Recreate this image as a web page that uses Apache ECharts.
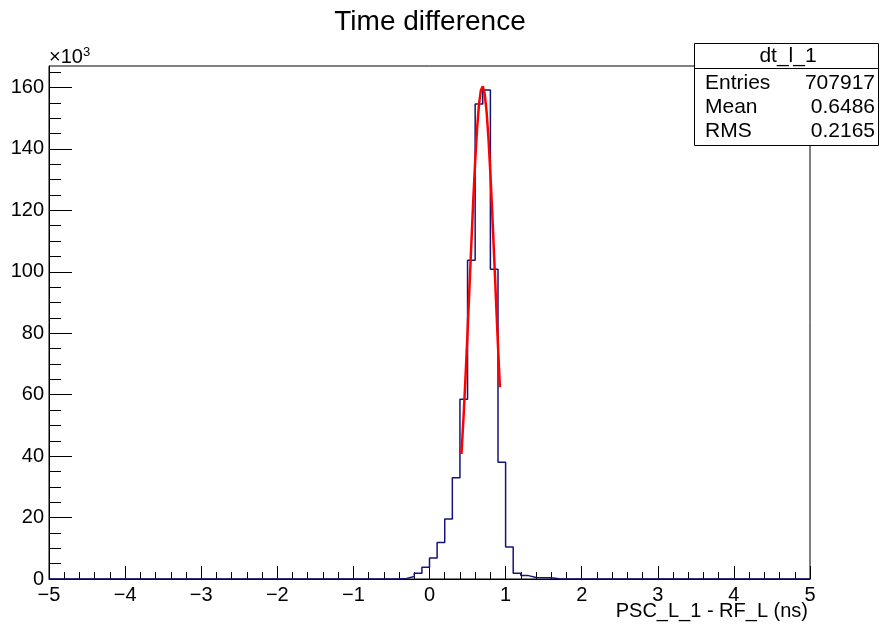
<!DOCTYPE html>
<html>
<head>
<meta charset="utf-8">
<script src="https://cdn.jsdelivr.net/npm/echarts@6/dist/echarts.min.js"></script>
<style>
html,body{margin:0;padding:0;background:#fff;}
#chart{width:881px;height:627px;}
</style>
</head>
<body>
<div id="chart"></div>
<script>
// Histogram: 100 bins of width 0.1 from -5 to 5, counts in units of 10^3
var binLow = -5;
var binWidth = 0.1;
var nBins = 100;
// non-empty bins start at x = -0.5 (bin index 45)
var firstFilledBin = 45;
var filledCountsK = [0.05, 0.2, 0.8, 1.9, 3.8, 6.8, 11.9, 19.5, 33.0, 58.5,
                     103.8, 154.6, 159.2, 100.8, 38.0, 10.4, 1.9, 1.1, 0.5, 0.4,
                     0.4, 0.05];
// Gaussian fit curve (red)
var fitX = [0.42, 0.45, 0.475, 0.50, 0.525, 0.55, 0.575, 0.60, 0.625, 0.65, 0.675,
            0.70, 0.725, 0.75, 0.775, 0.80, 0.825, 0.85, 0.875, 0.90, 0.925];
var fitY = [40.7, 54.0, 66.6, 80.4, 94.8, 109.3, 123.3, 135.9, 146.5, 154.4, 159.1,
            160.4, 158.0, 152.2, 143.4, 132.0, 118.9, 104.7, 90.1, 75.9, 62.4];
var yMajorTicks = [0, 20, 40, 60, 80, 100, 120, 140, 160];
var yMinorTicks = [5, 10, 15, 25, 30, 35, 45, 50, 55, 65, 70, 75, 85, 90, 95,
                   105, 110, 115, 125, 130, 135, 145, 150, 155, 165];
var statsTitle = 'dt_l_1';
var statsRows = [['Entries', '707917'], ['Mean', '0.6486'], ['RMS', '0.2165']];

var counts = [];
for (var i = 0; i < nBins; i++) counts.push(0);
for (var j = 0; j < filledCountsK.length; j++) counts[firstFilledBin + j] = filledCountsK[j];

var histPts = [[binLow, 0]];
for (var b = 0; b < nBins; b++) {
  var lo = +(binLow + b * binWidth).toFixed(4);
  var hi = +(binLow + (b + 1) * binWidth).toFixed(4);
  histPts.push([lo, counts[b]]);
  histPts.push([hi, counts[b]]);
}
histPts.push([binLow + nBins * binWidth, 0]);

var fitPts = fitX.map(function (x, k) { return [x, fitY[k]]; });

var FONT = '"Liberation Sans", Arial, Helvetica, sans-serif';
var chart = echarts.init(document.getElementById('chart'), null, {renderer: 'canvas'});

var L = 49, R = 810, T = 66, B = 579;

var graphics = [
  {type: 'text', x: 430, y: 22, z: 10,
   style: {text: 'Time difference', font: '28px ' + FONT, fill: '#000', textAlign: 'center', textVerticalAlign: 'middle'}},
  {type: 'text', x: 49, y: 57, z: 10,
   style: {text: '{a|\u00d710}{b|3}', fill: '#000', textVerticalAlign: 'middle',
     rich: {a: {fontSize: 20, fontFamily: FONT, fill: '#000'}, b: {fontSize: 13, fontFamily: FONT, fill: '#000', verticalAlign: 'top', padding: [0,0,10,0]}}}},
  {type: 'text', x: 808, y: 611, z: 10,
   style: {text: 'PSC_L_1 - RF_L (ns)', font: '20px ' + FONT, fill: '#000', textAlign: 'right', textVerticalAlign: 'middle'}},
  {type: 'rect', shape: {x: 694.5, y: 43.5, width: 184, height: 102}, z: 20,
   style: {fill: '#fff', stroke: '#000', lineWidth: 1}},
  {type: 'line', shape: {x1: 694.5, y1: 68.5, x2: 878.5, y2: 68.5}, z: 21,
   style: {stroke: '#000', lineWidth: 1}},
  {type: 'text', x: 788, y: 56, z: 22,
   style: {text: statsTitle, font: '21px ' + FONT, fill: '#000', textAlign: 'center', textVerticalAlign: 'middle'}}
];
statsRows.forEach(function (row, k) {
  var yy = 83 + k * 24.3;
  graphics.push({type: 'text', x: 705, y: yy, z: 22,
    style: {text: row[0], font: '21px ' + FONT, fill: '#000', textAlign: 'left', textVerticalAlign: 'middle'}});
  graphics.push({type: 'text', x: 875, y: yy, z: 22,
    style: {text: row[1], font: '21px ' + FONT, fill: '#000', textAlign: 'right', textVerticalAlign: 'middle'}});
});

chart.setOption({
  animation: false,
  backgroundColor: '#fff',
  grid: {left: L, right: 881 - R, top: T, bottom: 627 - B, show: true, borderColor: '#000', borderWidth: 1, containLabel: false},
  xAxis: {
    type: 'value', min: -5, max: 5, interval: 1,
    axisLine: {show: true, onZero: false, lineStyle: {color: '#000', width: 1}},
    axisTick: {show: true, inside: true, length: 13, lineStyle: {color: '#000', width: 1}},
    minorTick: {show: true, splitNumber: 5, length: 7, lineStyle: {color: '#000', width: 1}},
    axisLabel: {color: '#000', fontSize: 20, fontFamily: FONT, margin: 6,
      formatter: function (v) { return v < 0 ? '\u2212' + Math.abs(v) : String(v); }},
    splitLine: {show: false}
  },
  yAxis: [{
    type: 'value', min: 0, max: 167, interval: 20, position: 'left',
    axisLine: {show: true, onZero: false, lineStyle: {color: '#000', width: 1}},
    axisTick: {show: true, inside: true, length: 23, customValues: yMajorTicks, lineStyle: {color: '#000', width: 1}},
    axisLabel: {color: '#000', fontSize: 20, fontFamily: FONT, margin: 5, customValues: yMajorTicks},
    splitLine: {show: false}
  }, {
    type: 'value', min: 0, max: 167, interval: 20, position: 'left', offset: 0,
    axisLine: {show: false, onZero: false},
    axisTick: {show: true, inside: true, length: 12, customValues: yMinorTicks, lineStyle: {color: '#000', width: 1}},
    axisLabel: {show: false},
    splitLine: {show: false}
  }],
  series: [{
    type: 'line', data: histPts, showSymbol: false, symbol: 'none',
    lineStyle: {color: '#141478', width: 1.5}, z: 3, silent: true
  }, {
    type: 'line', data: fitPts, showSymbol: false, symbol: 'none', smooth: false,
    lineStyle: {color: '#ff0000', width: 2.5}, z: 4, silent: true
  }],
  graphic: graphics
});
</script>
</body>
</html>
